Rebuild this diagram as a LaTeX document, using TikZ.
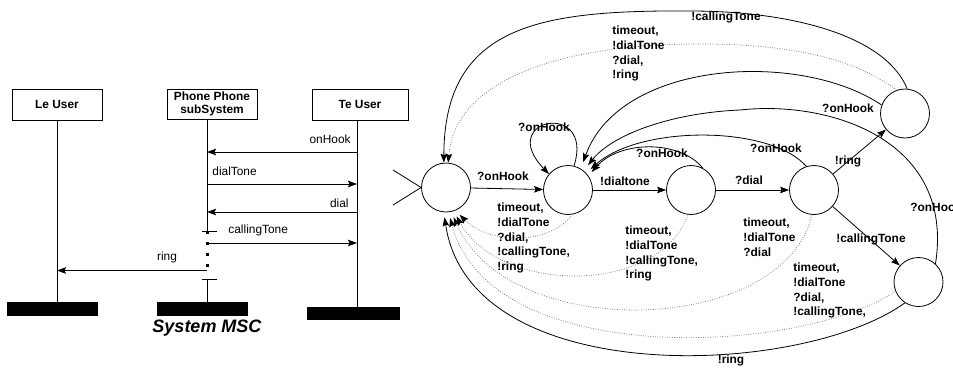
\documentclass[tikz,border=0pt]{standalone}
\usepackage{fontspec}
\setmainfont{Liberation Sans}
\usetikzlibrary{arrows.meta}
\begin{document}
\begin{tikzpicture}[x=1pt,y=-1pt,line width=0.8pt,
  arr/.style={-{Stealth[length=9pt,width=6.5pt,inset=1.5pt]}},
  darr/.style={draw=black!55,line width=0.7pt,dash pattern=on 0.8pt off 1.6pt,
    -{Stealth[length=9pt,width=6.5pt,inset=1.5pt,black]}},
  fsm/.style={circle,draw,minimum size=49pt,inner sep=0pt},
  objbox/.style={draw,minimum height=31pt,inner sep=0pt,align=center,
    font=\bfseries\fontsize{11.9}{13.5}\selectfont},
  endbar/.style={fill=black,draw=none,inner sep=0pt},
  msg/.style={inner sep=0pt,font=\fontsize{11.9}{14}\selectfont},
  lbl/.style={inner sep=0pt,align=left,font=\bfseries\fontsize{11.9}{14.6}\selectfont},
]
\useasboundingbox (0,0) rectangle (953,367);

% ---------------- MSC ----------------
\node[objbox,minimum width=90pt] (le) at (57,104.5) {Le User};
\node[objbox,minimum width=90pt,minimum height=30pt] (ph) at (212,104) {Phone Phone\\subSystem};
\node[objbox,minimum width=96pt] (te) at (360,104.5) {Te User};

\node[endbar,minimum width=91pt,minimum height=14pt] (lebar) at (52.5,309) {};
\node[endbar,minimum width=91pt,minimum height=14pt] (phbar) at (202.5,309) {};
\node[endbar,minimum width=93pt,minimum height=13pt] (tebar) at (353.5,313.5) {};

\coordinate (letop) at (57,120);
\coordinate (phtop) at (207,119);
\coordinate (tetop) at (357,120);
\coordinate (pha) at (207,231.5);
\coordinate (phb) at (207,279);

\draw (letop) -- (letop |- lebar.north);
\draw (tetop) -- (tetop |- tebar.north);
\draw (phtop) -- (pha);
\draw ([xshift=-5pt]pha) -- ([xshift=10pt]pha);
\draw[line width=3pt,dash pattern=on 3pt off 8.3pt] (207,230.5) -- (207,268);
\draw ([xshift=-5pt]phb) -- ([xshift=10pt]phb);
\draw (phb) -- (phb |- phbar.north);

\coordinate (te1) at (357,152);   \coordinate (ph1) at (207,152);
\coordinate (ph2) at (207,184);   \coordinate (te2) at (357,184);
\coordinate (te3) at (357,212);   \coordinate (ph3) at (207,212);
\coordinate (ph4) at (207,243);   \coordinate (te4) at (357,243);
\coordinate (ph5) at (207,270.5); \coordinate (le5) at (57,270.5);

\draw[arr] (te1) -- (ph1);
\draw[arr] (ph2) -- (te2);
\draw[arr] (te3) -- (ph3);
\draw[arr] (ph4) -- (te4);
\draw[arr] (ph5) -- (le5);

\node[msg,anchor=east] (m1) at (351,139) {onHook};
\node[msg,anchor=west] (m2) at (212,171) {dialTone};
\node[msg,anchor=east] (m3) at (349,203) {dial};
\node[msg,anchor=west] (m4) at (228,230) {callingTone};
\node[msg] (m5) at (167,257) {ring};

\node[inner sep=0pt,font=\bfseries\itshape\fontsize{18}{20}\selectfont] (title) at (207,328) {System MSC};

% ---------------- FSM ----------------
\node[fsm] (s0) at (446,187.5) {};
\node[fsm] (s1) at (568,190) {};
\node[fsm] (s2) at (691,190) {};
\node[fsm] (s3) at (814,190) {};
\node[fsm] (s4) at (905,113.5) {};
\node[fsm] (s5) at (918.5,282) {};

\coordinate (i1) at (393,170);
\coordinate (i2) at (393,205);
\draw (i1) -- (s0.west) -- (i2);

\draw[arr] (s0) -- (s1);
\draw[arr] (s1) -- (s2);
\draw[arr] (s2) -- (s3);
\draw[arr] (s3) -- (s4);
\draw[arr] (s3) -- (s5);

% self loop
\draw[arr] (s1.76) .. controls (595,100) and (495,118) .. (s1.140);

% back to s1
\draw[arr,shorten >=5pt] (s2.62) .. controls (680,140) and (620,140) .. (s1.35);
\draw[arr,shorten >=6pt] (s3.108) .. controls (770,125) and (640,125) .. (s1.43);
\draw[arr,shorten >=7pt] (s4.160) .. controls (800,50) and (620,60) .. (s1.59);
\draw[arr,shorten >=7pt] (s5.47) .. controls (955,140) and (830,100) .. (740,110)
   .. controls (670,113) and (612,135) .. (s1.51);

% back to s0 from top
\draw[arr] (s4.85) .. controls (885,35) and (790,11) .. (690,11)
   .. controls (540,10) and (444,25) .. (s0.95);
\draw[darr] (s4.110) .. controls (850,55) and (780,44) .. (700,44)
   .. controls (560,44) and (455,80) .. (s0.85);

% back to s0 from bottom
\draw[darr,shorten >=6pt] (s1.-80) .. controls (550,245) and (490,245) .. (s0.-68);
\draw[darr,shorten >=6pt] (s2.-97) .. controls (660,295) and (500,295) .. (s0.-72);
\draw[darr,shorten >=6pt] (s3.-95) .. controls (785,335) and (510,345) .. (s0.-78);
\draw[darr,shorten >=6pt] (s5.202) .. controls (800,355) and (490,370) .. (s0.-84);
\draw[arr,shorten >=5pt] (s5.237) .. controls (800,378) and (470,390) .. (s0.-95);

% labels
\node[lbl] (t01) at (503,176) {?onHook};
\node[lbl] (t12) at (625,181) {!dialtone};
\node[lbl] (t23) at (749,180) {?dial};
\node[lbl] (t34) at (848,161) {!ring};
\node[lbl] (t35) at (871,239) {!callingTone};
\node[lbl] (t11) at (544,127) {?onHook};
\node[lbl] (t21) at (662,153) {?onHook};
\node[lbl] (t31) at (776,148) {?onHook};
\node[lbl] (t41) at (848,108) {?onHook};
\node[lbl,anchor=west] (t51) at (910,207) {?onHook};
\node[lbl] (t40) at (726,17) {!callingTone};
\node[lbl,anchor=north west] (d40) at (612,25.8) {timeout,\\!dialTone\\?dial,\\!ring};
\node[lbl,anchor=north west] (d10) at (497,202.8) {timeout,\\!dialTone\\?dial,\\!callingTone,\\!ring};
\node[lbl,anchor=north west] (d20) at (625,225.8) {timeout,\\!dialTone\\!callingTone,\\!ring};
\node[lbl,anchor=north west] (d30) at (743,217.8) {timeout,\\!dialTone\\?dial};
\node[lbl,anchor=north west] (d50) at (793,262.8) {timeout,\\!dialTone\\?dial,\\!callingTone,};
\node[lbl] (t50) at (731,360) {!ring};
\end{tikzpicture}
\end{document}
